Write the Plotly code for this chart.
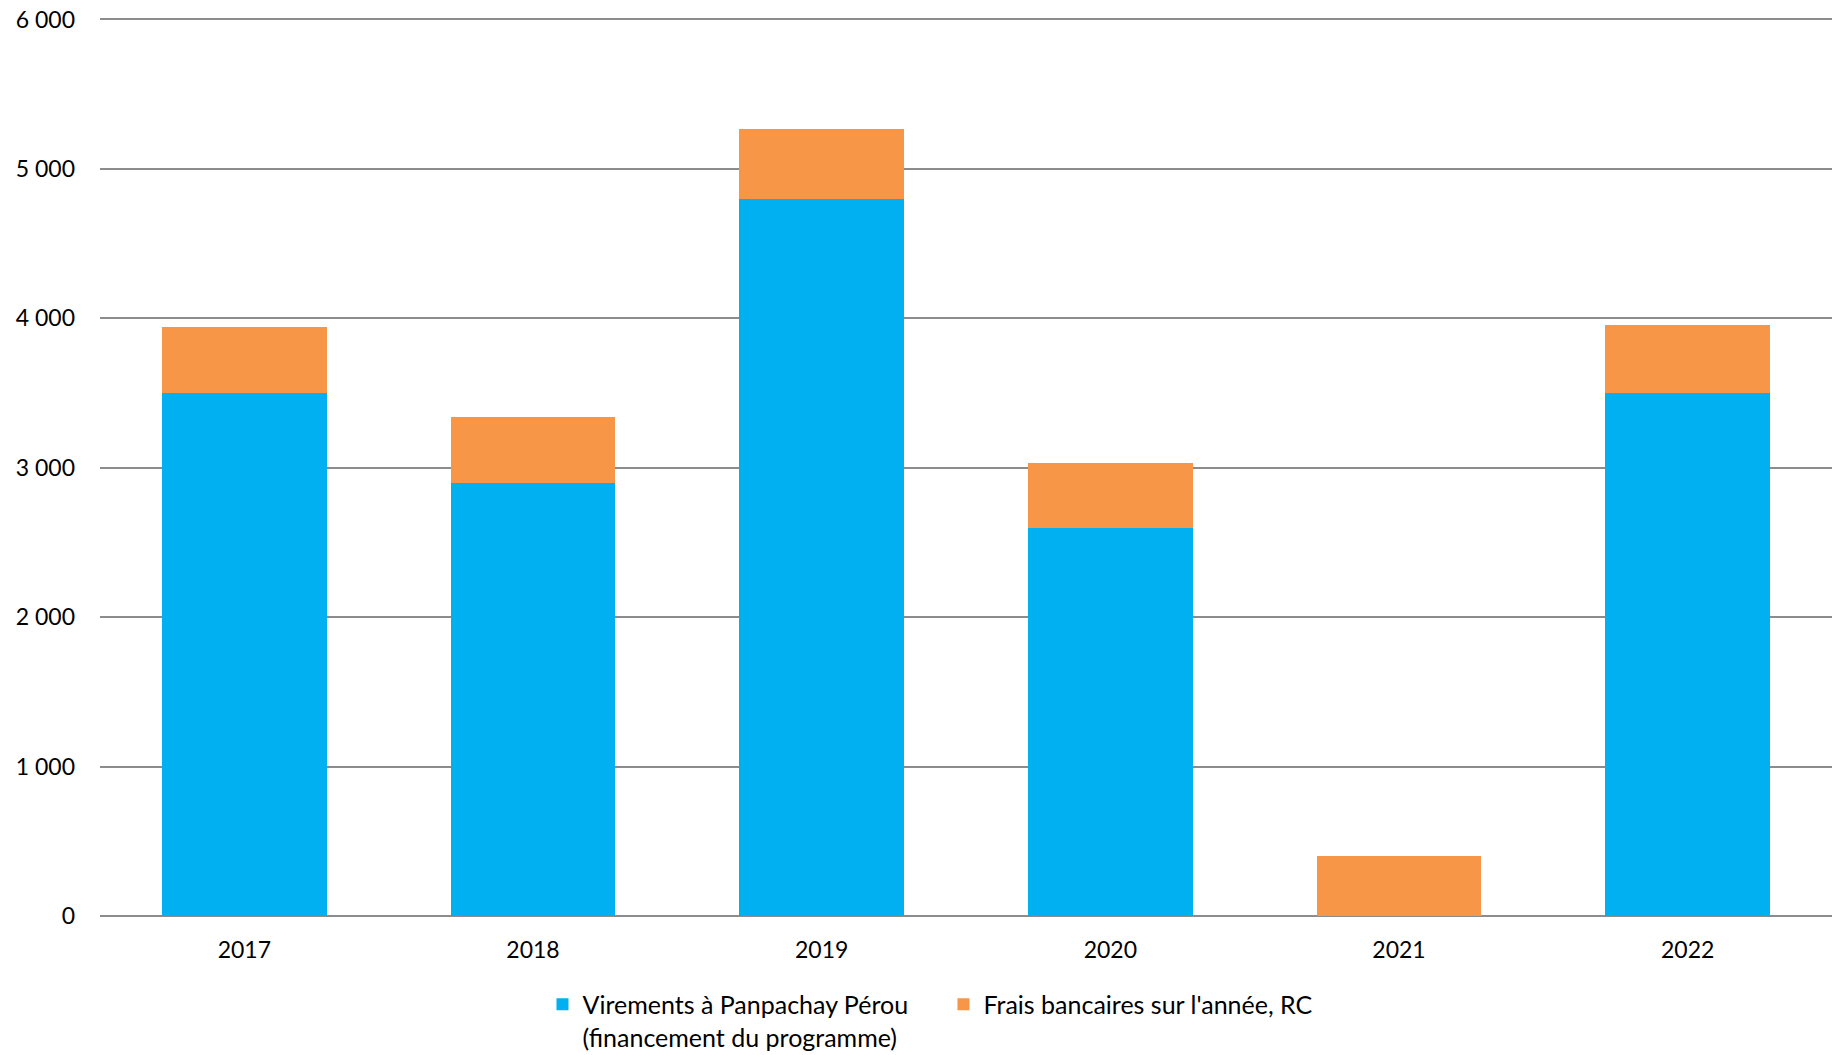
import plotly.graph_objects as go

years = ["2017", "2018", "2019", "2020", "2021", "2022"]
virements = [3500, 2900, 4800, 2600, 0, 3500]
frais = [440, 440, 465, 435, 400, 455]

name_virements = "Virements à Panpachay Pérou<br>(financement du programme)"
name_frais = "Frais bancaires sur l'année, RC"

FONT = "Lato"

fig = go.Figure()
fig.add_trace(go.Bar(x=years, y=virements, name=name_virements,
                     marker=dict(color="#00B0F0", line=dict(width=0))))
fig.add_trace(go.Bar(x=years, y=frais, name=name_frais,
                     marker=dict(color="#F79646", line=dict(width=0))))

fig.update_layout(
    width=1832, height=1055,
    barmode="stack",
    bargap=0.43,
    plot_bgcolor="white",
    paper_bgcolor="white",
    separators=", ",
    font=dict(family=FONT, size=23, color="#000000"),
    margin=dict(l=100, r=0, t=18, b=139, autoexpand=False),
    showlegend=True,
    legend=dict(orientation="h", x=0.487, xanchor="center", y=-0.073, yanchor="top",
                valign="top", entrywidth=356, entrywidthmode="pixels",
                font=dict(family=FONT, size=25, color="#000000"),
                traceorder="normal", itemclick=False, itemdoubleclick=False),
    xaxis=dict(showgrid=False, showline=False, ticks="", ticklabelstandoff=18,
               tickfont=dict(family=FONT, size=23)),
    yaxis=dict(range=[0, 6010], tickvals=[0, 1000, 2000, 3000, 4000, 5000, 6000],
               tickformat=",d",
               showgrid=True, gridcolor="#8C8C8C", gridwidth=1.5,
               zeroline=True, zerolinecolor="#8C8C8C", zerolinewidth=2,
               showline=False, ticks="", ticklabelstandoff=24,
               tickfont=dict(family=FONT, size=23)),
)

fig.write_html("out.html", config={"displayModeBar": False},
               post_script="document.body.style.margin='0';")
